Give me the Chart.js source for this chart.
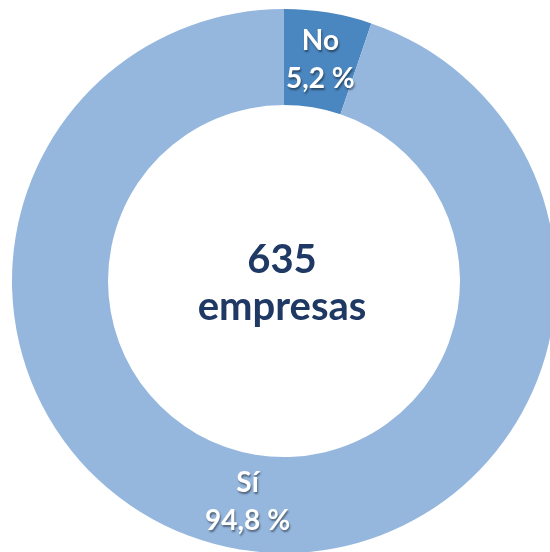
<!DOCTYPE html>
<html>
<head>
<meta charset="utf-8">
<script src="https://cdn.jsdelivr.net/npm/chart.js@4"></script>
<style>
  html, body { margin: 0; padding: 0; background: #fff; overflow: hidden; }
  body { width: 550px; height: 552px; position: relative; }
  #wrap { position: absolute; left: 12px; top: 9px; width: 544px; height: 544px; }
</style>
</head>
<body>
<div id="wrap"><canvas id="donut"></canvas></div>
<script>
const labels = ['No', 'Sí'];
const percents = [5.2, 94.8];
const sliceColors = ['#4A86BF', '#95B7DE'];
const centerLines = ['635', 'empresas'];

const fmt = v => v.toFixed(1).replace('.', ',') + ' %';

const sliceLabels = {
  id: 'sliceLabels',
  afterDatasetsDraw(chart) {
    const ctx = chart.ctx;
    const meta = chart.getDatasetMeta(0);
    ctx.save();
    ctx.textAlign = 'center';
    ctx.textBaseline = 'middle';
    ctx.fillStyle = '#fff';
    ctx.shadowColor = 'rgba(0,0,0,0.45)';
    ctx.shadowOffsetX = 1;
    ctx.shadowOffsetY = 1.5;
    ctx.shadowBlur = 2;
    ctx.font = 'bold 28px Lato';
    meta.data.forEach((arc, i) => {
      const p = arc.tooltipPosition();
      ctx.fillText(labels[i], p.x, p.y - 19);
      ctx.fillText(fmt(percents[i]), p.x, p.y + 19);
    });
    ctx.restore();

    // texto central
    const cx = (chart.chartArea.left + chart.chartArea.right) / 2 - 2;
    const cy = (chart.chartArea.top + chart.chartArea.bottom) / 2;
    ctx.save();
    ctx.textAlign = 'center';
    ctx.textBaseline = 'alphabetic';
    ctx.fillStyle = '#1F3864';
    ctx.font = 'bold 40px Lato';
    ctx.fillText(centerLines[0], cx, cy - 8);
    ctx.fillText(centerLines[1], cx, cy + 39);
    ctx.restore();
  }
};

new Chart(document.getElementById('donut'), {
  type: 'doughnut',
  data: {
    labels: labels,
    datasets: [{
      data: percents,
      backgroundColor: sliceColors,
      borderWidth: 0
    }]
  },
  options: {
    responsive: true,
    maintainAspectRatio: false,
    animation: false,
    cutout: '64.7%',
    layout: { padding: 0 },
    plugins: {
      legend: { display: false },
      tooltip: { enabled: false }
    }
  },
  plugins: [sliceLabels]
});
</script>
</body>
</html>
